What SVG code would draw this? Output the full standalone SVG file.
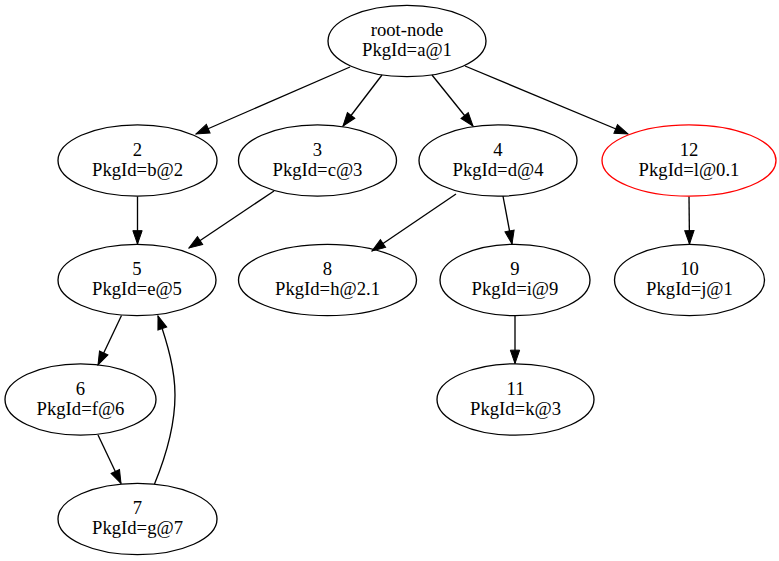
<svg xmlns="http://www.w3.org/2000/svg" width="779" height="561" viewBox="0 0 779 561">
<defs>
<marker id="arr" markerUnits="userSpaceOnUse" viewBox="-1 -1 15.33 11.33" refX="13.33" refY="4.67" markerWidth="15.33" markerHeight="11.33" orient="auto">
<path d="M0,0 L13.33,4.67 L0,9.33 Z" fill="#000" stroke="#000" stroke-width="1"/>
</marker>
<style>
ellipse{fill:none;stroke:#000;stroke-width:1.33}
ellipse.red{stroke:#ff0000}
text{font-family:"Liberation Serif","Times New Roman",serif;font-size:18.67px;text-anchor:middle;fill:#000}
.edges path{fill:none;stroke:#000;stroke-width:1.33;marker-end:url(#arr)}
</style>
</defs>
<rect width="779" height="561" fill="#fff"/>
<g class="edges" id="edges">
<path d="M350,67 L196,134"/>
<path d="M382,75 L343,126"/>
<path d="M432,75 L473,126"/>
<path d="M465,66 L628,134"/>
<path d="M137.5,196.5 L137.5,244"/>
<path d="M274,191 L189,248"/>
<path d="M456,194 L372,251"/>
<path d="M503,196 L512,244"/>
<path d="M689,196.5 L689.5,244"/>
<path d="M121.5,315.5 L98,365"/>
<path d="M515,316 L515,363.5"/>
<path d="M98,435 L121,483.5"/>
<path d="M154.5,484 C166,456 175,425 175,395 C175,370 168,345 158,316"/>
</g>
<g id="root-node"><ellipse cx="407" cy="41" rx="79" ry="35.7"/><text x="407" y="36">root-node</text><text x="407" y="56">PkgId=a@1</text></g>
<g id="n2"><ellipse cx="137.5" cy="160.5" rx="79.5" ry="35.7"/><text x="137.5" y="155.5">2</text><text x="137.5" y="175.5">PkgId=b@2</text></g>
<g id="n3"><ellipse cx="317.5" cy="160.5" rx="79" ry="35.7"/><text x="317.5" y="155.5">3</text><text x="317.5" y="175.5">PkgId=c@3</text></g>
<g id="n4"><ellipse cx="498" cy="160.5" rx="79" ry="35.7"/><text x="498" y="155.5">4</text><text x="498" y="175.5">PkgId=d@4</text></g>
<g id="n12"><ellipse class="red" cx="689" cy="160.5" rx="87" ry="35.7"/><text x="689" y="155.5">12</text><text x="689" y="175.5">PkgId=l@0.1</text></g>
<g id="n5"><ellipse cx="137" cy="280" rx="79" ry="35.7"/><text x="137" y="275">5</text><text x="137" y="295">PkgId=e@5</text></g>
<g id="n8"><ellipse cx="327.5" cy="280" rx="89" ry="35.7"/><text x="327.5" y="275">8</text><text x="327.5" y="295">PkgId=h@2.1</text></g>
<g id="n9"><ellipse cx="515" cy="280" rx="75" ry="35.7"/><text x="515" y="275">9</text><text x="515" y="295">PkgId=i@9</text></g>
<g id="n10"><ellipse cx="689.5" cy="280" rx="75" ry="35.7"/><text x="689.5" y="275">10</text><text x="689.5" y="295">PkgId=j@1</text></g>
<g id="n6"><ellipse cx="80.5" cy="399.5" rx="75.5" ry="35.7"/><text x="80.5" y="394.5">6</text><text x="80.5" y="414.5">PkgId=f@6</text></g>
<g id="n11"><ellipse cx="515.5" cy="399.5" rx="78.5" ry="35.7"/><text x="515.5" y="394.5">11</text><text x="515.5" y="414.5">PkgId=k@3</text></g>
<g id="n7"><ellipse cx="137.5" cy="519" rx="79.5" ry="35.7"/><text x="137.5" y="514">7</text><text x="137.5" y="534">PkgId=g@7</text></g>
</svg>
